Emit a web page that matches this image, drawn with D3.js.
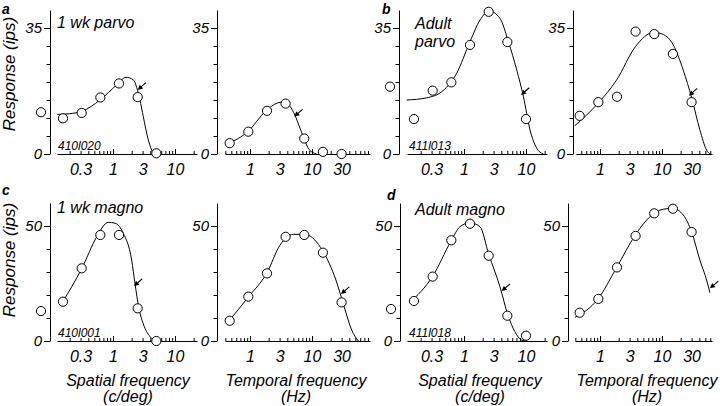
<!DOCTYPE html>
<html><head><meta charset="utf-8">
<script src="https://cdn.jsdelivr.net/npm/d3@7/dist/d3.min.js"></script>
<style>
html,body{margin:0;padding:0;background:#fff;}
svg text{font-family:"Liberation Sans",Arial,Helvetica,sans-serif;font-style:italic;fill:#000;}
</style></head><body>
<svg id="chart" width="720" height="406"></svg>
<script>
// ---------------- DATA ----------------
const spatialFreqs  = [0.156, 0.3125, 0.625, 1.25, 2.5, 5, 10];
const temporalFreqs = [0.47, 0.94, 1.88, 3.75, 7.5, 15, 30];
const spatialTickLabels  = [0.3, 1, 3, 10];
const temporalTickLabels = [1, 3, 10, 30];
const topYTicks = [0, 5, 10, 15, 20, 25, 30, 35];
const topYTickLabels = [0, 35];
const bottomYTicks = [0, 10, 20, 30, 40, 50];
const bottomYTickLabels = [0, 50];

// measured responses (ips)
const aSpatialY  = [9.9, 11.4, 15.7, 19.6, 15.8, 0.2];
const aTemporalY = [3.0, 6.2, 12.0, 14.0, 4.3, 0.6, 0];
const bSpatialY  = [9.7, 17.6, 19.9, 30.3, 39.5, 31.1, 9.7];
const bTemporalY = [10.6, 14.4, 15.9, 34.0, 33.3, 27.8, 14.4];
const cSpatialY  = [17.1, 31.6, 46.1, 46.1, 14.2, 0];
const cTemporalY = [8.8, 19.3, 29.4, 45.3, 46.1, 38.4, 16.8];
const dSpatialY  = [17.4, 28.0, 43.8, 51.0, 37.1, 11.0, 2.3];
const dTemporalY = [12.3, 18.3, 32.0, 45.7, 55.5, 57.5, 47.4];

// blank (spontaneous) responses plotted left of the spatial axes
const blankY = [11.6, 18.7, 13.0, 13.9];

// fitted curves
const aSpatialFitX  = [0.126, 0.2, 0.32, 0.617, 1.15, 1.62, 2.13, 2.41, 2.72, 3.08, 3.71, 4.47];
const aSpatialFitY  = [11.0, 11.2, 11.9, 15.0, 19.2, 21.3, 20.6, 18.5, 15.0, 10.4, 3.9, 0];
const aTemporalFitX = [0.46, 0.92, 1.81, 2.8, 3.6, 4.4, 5.3, 6.3, 7.43, 9.0, 11.9];
const aTemporalFitY = [3.0, 6.2, 12.0, 14.2, 14.5, 13.3, 10.8, 7.5, 4.3, 1.2, 0];
const bSpatialFitX  = [0.119, 0.25, 0.46, 0.76, 1.25, 1.81, 2.56, 3.8, 5.2, 7.1, 9.1, 11.6, 14.9, 19.0];
const bSpatialFitY  = [15.0, 15.6, 17.6, 22.4, 31.2, 37.2, 39.7, 37.7, 31.2, 23.3, 15.9, 6.7, 1.6, 0];
const bTemporalFitX = [0.39, 0.93, 1.86, 3.72, 7.4, 10.5, 15.2, 22.0, 30.2, 40.8, 52.4, 59.2];
const bTemporalFitY = [7.8, 14.1, 20.6, 29.8, 33.8, 33.2, 30.3, 23.3, 15.5, 6.7, 1.1, 0];
const cSpatialFitX  = [0.149, 0.32, 0.546, 0.84, 1.08, 1.47, 2.0, 2.26, 2.6, 3.08, 3.95, 5.07];
const cSpatialFitY  = [16.4, 32.0, 45.3, 51.6, 51.2, 46.8, 35.2, 25.1, 14.6, 7.4, 1.9, 0];
const cTemporalFitX = [0.46, 0.94, 1.88, 3.05, 5.0, 8.2, 14.8, 24.3, 33, 43.6, 56];
const cTemporalFitY = [8.8, 19.1, 29.7, 41.7, 46.4, 46.1, 39.3, 26.5, 14.9, 4.8, 0];
const dSpatialFitX  = [0.134, 0.31, 0.62, 0.86, 1.25, 1.81, 2.5, 3.8, 5.1, 6.6, 8.5, 9.7];
const dSpatialFitY  = [16.8, 28.0, 43.5, 49.7, 51.4, 49.7, 37.8, 23.6, 11.3, 4.1, 0.4, 0];
const dTemporalFitX = [0.395, 0.93, 1.86, 3.71, 5.66, 7.42, 10.5, 14.9, 22.0, 30.1, 40.8, 52.4, 59.3];
const dTemporalFitY = [10.3, 18.3, 32.0, 46.1, 52.6, 55.5, 57.3, 57.7, 54.8, 47.4, 35.2, 26.5, 21.0];

// arrow tips [frequency, response]
const arrowTips = [[2.5, 17.8], [5.18, 10.4], [8.3, 16.4], [27.2, 16.2],
                   [2.18, 23.9], [29.4, 20.4], [4.06, 21.7], [59.5, 22.9]];

const panelTitles = [["1 wk parvo"], ["Adult", "parvo"], ["1 wk magno"], ["Adult magno"]];
const cellIds = ["410l020", "411l013", "410l001", "411l018"];
const panelLetters = ["a", "b", "c", "d"];
const xTitles = [["Spatial frequency", "(c/deg)"], ["Temporal frequency", "(Hz)"]];
const yTitle = "Response (ips)";

// ---------------- LAYOUT ----------------
const svg = d3.select("#chart");
const PXDEC = 62;
const rows = [
  {y0: 154, ytop: 10, ymax: 40, ticks: topYTicks, labels: topYTickLabels},
  {y0: 341, ytop: 203, ymax: 60, ticks: bottomYTicks, labels: bottomYTickLabels}
];
const panels = [
  {row: 0, ax: 50,  xr: [57, 197],  at1: 113, fx: spatialFreqs,  y: aSpatialY,  fitX: aSpatialFitX,  fitY: aSpatialFitY,  lab: spatialTickLabels,  blank: blankY[0], arrow: arrowTips[0]},
  {row: 0, ax: 217, xr: [225, 370], at1: 250, fx: temporalFreqs, y: aTemporalY, fitX: aTemporalFitX, fitY: aTemporalFitY, lab: temporalTickLabels, blank: null, arrow: arrowTips[1]},
  {row: 0, ax: 399, xr: [407, 547], at1: 464, fx: spatialFreqs,  y: bSpatialY,  fitX: bSpatialFitX,  fitY: bSpatialFitY,  lab: spatialTickLabels,  blank: blankY[1], arrow: arrowTips[2]},
  {row: 0, ax: 573, xr: [576, 712], at1: 600, fx: temporalFreqs, y: bTemporalY, fitX: bTemporalFitX, fitY: bTemporalFitY, lab: temporalTickLabels, blank: null, arrow: arrowTips[3]},
  {row: 1, ax: 50,  xr: [57, 197],  at1: 113, fx: spatialFreqs,  y: cSpatialY,  fitX: cSpatialFitX,  fitY: cSpatialFitY,  lab: spatialTickLabels,  blank: blankY[2], arrow: arrowTips[4]},
  {row: 1, ax: 217, xr: [225, 370], at1: 250, fx: temporalFreqs, y: cTemporalY, fitX: cTemporalFitX, fitY: cTemporalFitY, lab: temporalTickLabels, blank: null, arrow: arrowTips[5]},
  {row: 1, ax: 400, xr: [407, 547], at1: 464, fx: spatialFreqs,  y: dSpatialY,  fitX: dSpatialFitX,  fitY: dSpatialFitY,  lab: spatialTickLabels,  blank: blankY[3], arrow: arrowTips[6]},
  {row: 1, ax: 568, xr: [575, 712], at1: 600, fx: temporalFreqs, y: dTemporalY, fitX: dTemporalFitX, fitY: dTemporalFitY, lab: temporalTickLabels, blank: null, arrow: arrowTips[7]}
];

function minorTicks(dom) {
  const out = [];
  for (let e = -2; e <= 2; e++) for (let k = 1; k <= 9; k++) {
    const v = k * Math.pow(10, e);
    if (v >= dom[0] && v <= dom[1]) out.push(v);
  }
  return out;
}

panels.forEach(p => {
  const r = rows[p.row];
  const g = svg.append("g");
  const dom = [Math.pow(10, (p.xr[0] - p.at1) / PXDEC), Math.pow(10, (p.xr[1] - p.at1) / PXDEC)];
  const x = d3.scaleLog().domain(dom).range(p.xr);
  const y = d3.scaleLinear().domain([0, r.ymax]).range([r.y0, r.ytop]);

  // y axis
  g.append("g").attr("transform", `translate(${p.ax},0)`)
    .call(d3.axisLeft(y).tickValues(r.ticks).tickSizeInner(3.5).tickSizeOuter(0).tickFormat(""));
  const yl = g.append("g").attr("transform", `translate(${p.ax},0)`)
    .call(d3.axisLeft(y).tickValues(r.labels).tickSizeInner(6).tickSizeOuter(0).tickPadding(2).tickFormat(d3.format("d")));
  yl.select(".domain").remove();
  yl.selectAll("text").style("font-size", "15px");

  // x axis
  const mt = minorTicks(dom);
  const xa = g.append("g").attr("transform", `translate(0,${r.y0})`)
    .call(d3.axisBottom(x).tickValues(mt).tickSizeInner(-3).tickSizeOuter(0).tickFormat(""));
  xa.selectAll(".tick line").filter(d => Math.abs(Math.log10(d) - Math.round(Math.log10(d))) < 1e-9).attr("y2", -5);
  const xl = g.append("g").attr("transform", `translate(0,${r.y0})`)
    .call(d3.axisBottom(x).tickValues(p.lab).tickSize(0).tickPadding(9.5).tickFormat(d => String(d)));
  xl.select(".domain").remove();
  xl.selectAll("text").style("font-size", "16px");

  // fitted curve
  const line = d3.line().x(d => x(d[0])).y(d => y(d[1])).curve(d3.curveMonotoneX);
  g.append("path").datum(p.fitX.map((v, i) => [v, p.fitY[i]]))
    .attr("d", line).attr("fill", "none").attr("stroke", "#000").attr("stroke-width", 1);

  // points
  g.selectAll("circle.pt").data(p.y).join("circle").attr("class", "pt")
    .attr("cx", (d, i) => x(p.fx[i])).attr("cy", d => y(d)).attr("r", 4.6)
    .attr("fill", "#fff").attr("stroke", "#000").attr("stroke-width", 1);
  if (p.blank !== null) {
    g.append("circle").attr("cx", p.ax - 9).attr("cy", y(p.blank)).attr("r", 4.6)
      .attr("fill", "#fff").attr("stroke", "#000").attr("stroke-width", 1);
  }

  // arrow
  const tx = x(p.arrow[0]), ty = y(p.arrow[1]);
  const dx = -8, dy = 7, L = Math.hypot(dx, dy), ux = dx / L, uy = dy / L;
  g.append("line").attr("x1", tx - ux * 11).attr("y1", ty - uy * 11).attr("x2", tx - ux * 3).attr("y2", ty - uy * 3)
    .attr("stroke", "#000").attr("stroke-width", 1.1);
  const hl = 5, hw = 2.6;
  const bx = tx - ux * hl, by = ty - uy * hl;
  g.append("path").attr("d", `M${tx},${ty}L${bx - uy * hw},${by + ux * hw}L${bx + uy * hw},${by - ux * hw}Z`).attr("fill", "#000");
});

// panel texts
const titlePos = [[57, 28], [415, 29], [57, 213], [415, 215]];
panelTitles.forEach((lines, i) => {
  lines.forEach((t, j) => svg.append("text").attr("x", titlePos[i][0]).attr("y", titlePos[i][1] + j * 18)
    .style("font-size", "16px").text(t));
});
const idPos = [[58, 150], [409, 150], [58, 337], [409, 337]];
cellIds.forEach((t, i) => svg.append("text").attr("x", idPos[i][0]).attr("y", idPos[i][1]).style("font-size", "12px").text(t));
const letterPos = [[2, 14], [382, 14], [2, 195], [387, 200]];
panelLetters.forEach((t, i) => svg.append("text").attr("x", letterPos[i][0]).attr("y", letterPos[i][1])
  .style("font-size", "14px").style("font-weight", "bold").text(t));

// axis titles
const xTitleCenters = [128, 296, 480, 647];
xTitleCenters.forEach((cx, i) => {
  const t = xTitles[i % 2];
  svg.append("text").attr("x", cx).attr("y", 386).attr("text-anchor", "middle").style("font-size", "16px").text(t[0]);
  svg.append("text").attr("x", cx).attr("y", 402).attr("text-anchor", "middle").style("font-size", "16px").text(t[1]);
});
[74, 260].forEach(cy => {
  svg.append("text").attr("transform", `translate(15,${cy}) rotate(-90)`).attr("text-anchor", "middle")
    .style("font-size", "17px").text(yTitle);
});
</script>
</body></html>
